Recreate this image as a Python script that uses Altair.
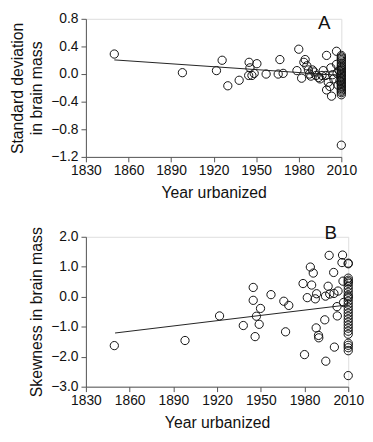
import altair as alt
import pandas as pd

# Panel A: standard deviation in brain mass
a_years = [1850, 1898, 1922, 1926, 1930, 1938, 1945, 1945.6, 1944.7, 1947, 1948.6, 1950.5,
           1957, 1965.5, 1966.7, 1969, 1980, 1978.7, 1982, 1984.5, 1983.6, 1985.7, 1986.8,
           1987.5, 1988.5, 1989.6, 1990.8, 1992.2, 1994, 1995, 1996.4, 1997.3, 1999.1, 1999.6,
           2000.8, 2001.9, 2003.1, 1999.6, 2002.6, 2003.8, 2004.7, 2006.6, 2006.6, 2007, 2007.7,
           2008.5, 2009]
a_vals = [0.29, 0.02, 0.05, 0.2, -0.17, -0.09, 0.17, 0.09, -0.02, -0.02, 0.01, 0.15,
          0.0, 0.0, 0.21, 0.01, 0.36, 0.05, -0.06, 0.21, 0.17, 0.12, 0.06,
          0.0, -0.03, 0.06, 0.03, -0.02, -0.05, -0.07, -0.02, 0.05, -0.02, 0.27,
          -0.12, -0.18, -0.32, -0.23, 0.09, -0.01, -0.07, 0.33, 0.14, 0.01, -0.16,
          0.05, -0.1]
a_2010 = [0.27, 0.25, 0.23, 0.21, 0.19, 0.16, 0.13, 0.11, 0.09, 0.07, 0.05, 0.03, 0.01,
          -0.01, -0.03, -0.05, -0.07, -0.09, -0.11, -0.13, -0.15, -0.17, -0.19, -0.21,
          -0.23, -0.25, -0.27, -0.3, -1.03]
a_fit_years = [1850, 2010]
a_fit_vals = [0.205, -0.02]

# Panel B: skewness in brain mass
b_years = [1849.5, 1898, 1921.7, 1938, 1944.8, 1944.8, 1947, 1946.1, 1949.8, 1948.9, 1957,
           1965.8, 1969.2, 1967, 1979, 1984, 1986, 1984.9, 1981.9, 1987.4, 1988.3, 1980,
           1988, 1989.6, 1989.8, 1996.9, 1996.2, 1994.4, 1997.3, 2000, 2000.2, 2003, 2002.3,
           2002.5, 1993.9, 1994.6, 2000.5, 2006.1, 2005.7, 2006.4, 2006.8]
b_vals = [-1.63, -1.46, -0.64, -0.96, 0.31, -0.12, -0.65, -1.33, -0.39, -0.92, 0.07,
          -0.15, -0.29, -1.17, 0.44, 0.99, 0.79, 0.39, -0.03, -0.07, 0.1, -1.93,
          -1.04, -1.29, -1.37, 1.38, 0.35, 0.02, 0.09, 0.81, 0.11, 0.19, -0.33,
          -0.64, -0.77, -2.15, -1.68, 1.39, 1.14, 0.52, -0.19]
b_2010 = [1.12, 1.1, 0.62, 0.55, 0.5, 0.45, 0.35, 0.25, 0.15, 0.05, 0.0, -0.05, -0.15,
          -0.25, -0.35, -0.45, -0.55, -0.65, -0.75, -0.85, -0.95, -1.05, -1.15, -1.25,
          -1.55, -1.62, -1.7, -1.8, -2.63]
b_fit_years = [1850, 2010]
b_fit_vals = [-1.21, -0.27]

x_ticks = [1830, 1860, 1890, 1920, 1950, 1980, 2010]
a_ticks = [-1.2, -0.8, -0.4, 0.0, 0.4, 0.8]
b_ticks = [-3.0, -2.0, -1.0, 0.0, 1.0, 2.0]

FONT = "Liberation Sans"

dfA = pd.DataFrame({"year": a_years + [2010] * len(a_2010), "v": a_vals + a_2010})
dfAfit = pd.DataFrame({"year": a_fit_years, "v": a_fit_vals})
dfB = pd.DataFrame({"year": b_years + [2010] * len(b_2010), "v": b_vals + b_2010})
dfBfit = pd.DataFrame({"year": b_fit_years, "v": b_fit_vals})


def xaxis():
    return alt.X("year:Q", scale=alt.Scale(domain=[1830, 2010], nice=False, zero=False),
                 axis=alt.Axis(values=x_ticks, format="d", title="Year urbanized",
                               grid=False, labelFontSize=14, titleFontSize=16,
                               titleFontWeight="normal", labelFont=FONT, titleFont=FONT,
                               domainColor="#555", tickColor="#555", labelColor="#111",
                               titleColor="#111", tickSize=5, labelPadding=2,
                               titlePadding=7, labelFlush=False, labelOverlap=False))


def yaxis(domain, ticks, title):
    return alt.Y("v:Q", scale=alt.Scale(domain=domain, nice=False, zero=False),
                 axis=alt.Axis(values=ticks, format=".1f", title=title, grid=False,
                               labelFontSize=14, titleFontSize=16, titleFontWeight="normal",
                               titleLineHeight=20,
                               labelFont=FONT, titleFont=FONT, domainColor="#555",
                               tickColor="#555", labelColor="#111", titleColor="#111",
                               tickSize=5, labelPadding=3, titlePadding=6, tickCount=6,
                               labelFlush=False, labelOverlap=False))


def panel(df, dfit, domain, ticks, title, letter, ly, w, h):
    pts = alt.Chart(df).mark_point(shape="circle", size=70, filled=False, color="#111",
                                   strokeWidth=1, opacity=1).encode(
        x=xaxis(), y=yaxis(domain, ticks, title))
    fit = alt.Chart(dfit).mark_line(color="#222", strokeWidth=1).encode(
        x=xaxis(), y=yaxis(domain, ticks, title))
    lab = alt.Chart(pd.DataFrame({"year": [1998], "v": [ly], "t": [letter]})).mark_text(
        fontSize=19, font=FONT, color="#111", baseline="middle").encode(
        x=xaxis(), y=yaxis(domain, ticks, title), text="t:N")
    return alt.layer(pts, fit, lab).properties(width=w, height=h)


A = panel(dfA, dfAfit, [-1.2, 0.8], a_ticks, ["Standard deviation", "in brain mass"],
          "A", 0.74, 259, 140)
B = panel(dfB, dfBfit, [-3.0, 2.0], b_ticks, "Skewness in brain mass", "B", 2.13, 266, 152)

chart = alt.vconcat(A, B, spacing=22).configure_view(stroke=None).configure(
    padding={"left": 0, "top": 0, "right": 0, "bottom": 0})

chart.save("out.html", embed_options={"renderer": "svg", "actions": False})
